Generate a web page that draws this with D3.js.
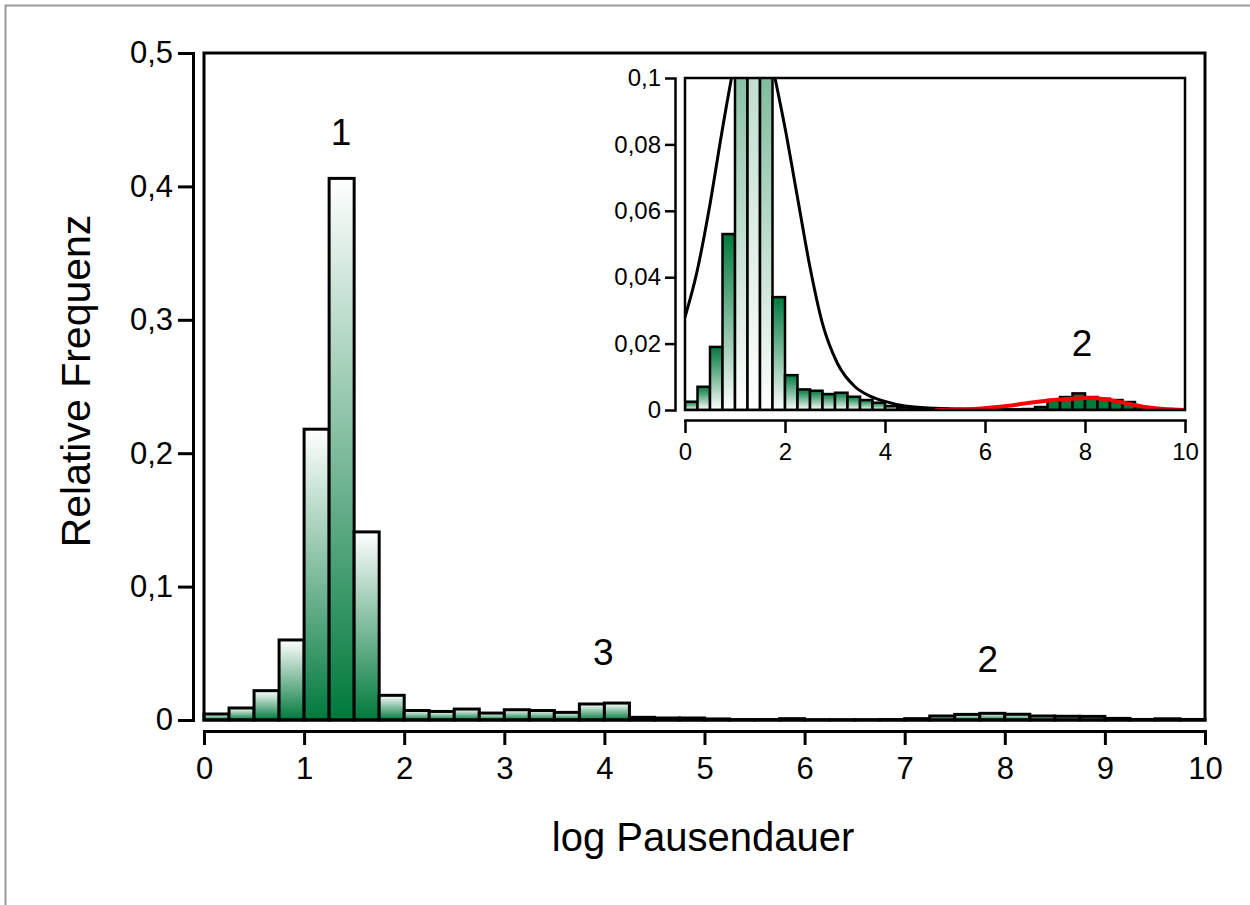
<!DOCTYPE html>
<html>
<head>
<meta charset="utf-8">
<script src="https://cdn.jsdelivr.net/npm/d3@7"></script>
<style>
    body { margin: 0; background: #fff; }
    svg { font-family: "Liberation Sans", Arial, sans-serif; }
</style>
</head>
<body>
<div id="chart"></div>
<script>
// histogram bins are 0.25 wide, starting at log Pausendauer = 0
const binWidth = 0.25;

// main histogram (relative frequency per bin)
const mainFreq = [
    0.0045, 0.009, 0.022, 0.060, 0.218, 0.406, 0.141, 0.0185,
    0.0071, 0.0064, 0.0082, 0.0052, 0.0077, 0.0071, 0.0057, 0.012,
    0.0127, 0.002, 0.0015, 0.0015, 0.0008, 0.0003, 0.0003, 0.001,
    0.0002, 0.0002, 0.0002, 0.0003, 0.001, 0.003, 0.0042, 0.005,
    0.0043, 0.003, 0.0028, 0.0027, 0.0012, 0.0004, 0.0009, 0.0004
];

// inset histogram, first component (bins from 0 to 7)
const insetFreq = [
    0.0025, 0.007, 0.019, 0.053, 0.218, 0.406, 0.2, 0.034,
    0.0105, 0.0062, 0.0058, 0.0048, 0.0052, 0.004, 0.003, 0.0022,
    0.0012, 0.0008, 0.0006, 0.0005, 0.0004, 0.0003, 0.0003, 0.0003,
    0.0002, 0.0002, 0.0002, 0.0003
];
// inset histogram, second component (bins from 7 to 10)
const insetPeak2Start = 7;
const insetPeak2Freq = [
    0.0009, 0.003, 0.0039, 0.005, 0.0039, 0.0034, 0.003, 0.0024,
    0.0009, 0.0003, 0.0003, 0.0002
];

// fitted curves in the inset
const fit1X = [0, 0.23, 0.5, 0.73, 0.93, 1.15, 1.37, 1.58, 1.8, 2.0, 2.25, 2.5, 2.75, 3.05, 3.4, 3.7, 4.0, 4.4, 5.0, 5.5, 6.0];
const fit1Y = [0.028, 0.041, 0.062, 0.083, 0.1, 0.116, 0.123, 0.116, 0.1, 0.085, 0.064, 0.043, 0.026, 0.014, 0.007, 0.0042, 0.0026, 0.0012, 0.0005, 0.0002, 0.0001];
const fit2X = [5.0, 5.77, 6.43, 6.9, 7.37, 7.77, 8.03, 8.43, 8.83, 9.23, 9.63, 10];
const fit2Y = [0, 0.0003, 0.0012, 0.0022, 0.003, 0.0035, 0.0036, 0.0032, 0.002, 0.0008, 0.0002, 0];

// ticks
const mainXTicks = [0, 1, 2, 3, 4, 5, 6, 7, 8, 9, 10];
const mainYTicks = [0, 0.1, 0.2, 0.3, 0.4, 0.5];
const insetXTicks = [0, 2, 4, 6, 8, 10];
const insetYTicks = [0, 0.02, 0.04, 0.06, 0.08, 0.1];

// peak labels
const mainLabelText = ["1", "3", "2"];
const mainLabelX = [1.37, 3.99, 7.83];
const mainLabelY = [0.431, 0.041, 0.036];
const insetLabelText = ["2"];
const insetLabelX = [7.94];
const insetLabelY = [0.0162];

const green = "#00793c";
const commaFmt = d => String(d).replace(".", ",");

const svg = d3.select("#chart").append("svg")
    .attr("width", 1250)
    .attr("height", 905);

// outer grey border (only top/left visible)
svg.append("rect")
    .attr("x", 5.5).attr("y", 5.5)
    .attr("width", 1300).attr("height", 950)
    .attr("fill", "none")
    .attr("stroke", "#9a9a9a")
    .attr("stroke-width", 2);

const defs = svg.append("defs");

// white top -> green bottom (main)
let g1 = defs.append("linearGradient").attr("id", "gradMain")
    .attr("x1", 0).attr("y1", 0).attr("x2", 0).attr("y2", 1);
g1.append("stop").attr("offset", 0).attr("stop-color", "#ffffff");
g1.append("stop").attr("offset", 1).attr("stop-color", green);

// green top -> white bottom (inset)
let g2 = defs.append("linearGradient").attr("id", "gradInset")
    .attr("x1", 0).attr("y1", 0).attr("x2", 0).attr("y2", 1);
g2.append("stop").attr("offset", 0).attr("stop-color", green);
g2.append("stop").attr("offset", 1).attr("stop-color", "#ffffff");

// ---------- main chart ----------
const main = { left: 204, right: 1205, top: 53, bottom: 720 };

const xMain = d3.scaleLinear().domain([0, 10]).range([main.left, main.right]);
const yMain = d3.scaleLinear().domain([0, 0.5]).range([main.bottom, main.top]);

svg.append("g")
    .selectAll("rect")
    .data(mainFreq)
    .join("rect")
    .attr("x", (d, i) => xMain(i * binWidth))
    .attr("width", xMain(binWidth) - xMain(0))
    .attr("y", d => yMain(d))
    .attr("height", d => yMain(0) - yMain(d))
    .attr("fill", "url(#gradMain)")
    .attr("stroke", "#000")
    .attr("stroke-width", 3);

svg.append("rect")
    .attr("x", main.left).attr("y", main.top)
    .attr("width", main.right - main.left)
    .attr("height", main.bottom - main.top)
    .attr("fill", "none")
    .attr("stroke", "#000")
    .attr("stroke-width", 3);

const yAxisMain = svg.append("g")
    .attr("transform", "translate(193,0)")
    .call(d3.axisLeft(yMain).tickValues(mainYTicks).tickFormat(commaFmt)
        .tickSize(15).tickSizeOuter(0).tickPadding(5));

const xAxisMain = svg.append("g")
    .attr("transform", "translate(0,731)")
    .call(d3.axisBottom(xMain).tickValues(mainXTicks).tickFormat(commaFmt)
        .tickSize(14).tickSizeOuter(0).tickPadding(12));

[yAxisMain, xAxisMain].forEach(ax => {
    ax.select(".domain").attr("stroke-width", 3).attr("stroke-linecap", "square");
    ax.selectAll(".tick line").attr("stroke-width", 3);
    ax.selectAll("text").style("font-size", "31px").attr("fill", "#000");
    ax.attr("font-family", null);
});

svg.append("text")
    .attr("transform", "rotate(-90)")
    .attr("x", -381)
    .attr("y", 90)
    .attr("text-anchor", "middle")
    .style("font-size", "41px")
    .text("Relative Frequenz");

svg.append("text")
    .attr("x", 703)
    .attr("y", 851)
    .attr("text-anchor", "middle")
    .style("font-size", "40px")
    .text("log Pausendauer");

svg.append("g")
    .selectAll("text")
    .data(mainLabelText)
    .join("text")
    .attr("x", (d, i) => xMain(mainLabelX[i]))
    .attr("y", (d, i) => yMain(mainLabelY[i]))
    .attr("text-anchor", "middle")
    .style("font-size", "37px")
    .text(d => d);

// ---------- inset ----------
const inset = { left: 685, right: 1185, top: 78, bottom: 410 };

const xIn = d3.scaleLinear().domain([0, 10]).range([inset.left, inset.right]);
const yIn = d3.scaleLinear().domain([0, 0.1]).range([inset.bottom, inset.top]);

defs.append("clipPath").attr("id", "insetClip")
    .append("rect")
    .attr("x", inset.left).attr("y", inset.top)
    .attr("width", inset.right - inset.left)
    .attr("height", inset.bottom - inset.top);

svg.append("rect")
    .attr("x", inset.left).attr("y", inset.top)
    .attr("width", inset.right - inset.left)
    .attr("height", inset.bottom - inset.top)
    .attr("fill", "#fff");

const insetG = svg.append("g").attr("clip-path", "url(#insetClip)");

insetG.append("g")
    .selectAll("rect")
    .data(insetFreq)
    .join("rect")
    .attr("x", (d, i) => xIn(i * binWidth))
    .attr("width", xIn(binWidth) - xIn(0))
    .attr("y", d => yIn(d))
    .attr("height", d => yIn(0) - yIn(d))
    .attr("fill", "url(#gradInset)")
    .attr("stroke", "#000")
    .attr("stroke-width", 2.5);

insetG.append("g")
    .selectAll("rect")
    .data(insetPeak2Freq)
    .join("rect")
    .attr("x", (d, i) => xIn(insetPeak2Start + i * binWidth))
    .attr("width", xIn(binWidth) - xIn(0))
    .attr("y", d => yIn(d))
    .attr("height", d => yIn(0) - yIn(d))
    .attr("fill", green)
    .attr("stroke", "#000")
    .attr("stroke-width", 2.5);

const fitLine = d3.line()
    .x(d => xIn(d[0]))
    .y(d => yIn(d[1]))
    .curve(d3.curveMonotoneX);

insetG.append("path")
    .datum(fit1X.map((x, i) => [x, fit1Y[i]]))
    .attr("d", fitLine)
    .attr("fill", "none")
    .attr("stroke", "#000")
    .attr("stroke-width", 3);

insetG.append("path")
    .datum(fit2X.map((x, i) => [x, fit2Y[i]]))
    .attr("d", fitLine)
    .attr("fill", "none")
    .attr("stroke", "#ff0000")
    .attr("stroke-width", 4);

svg.append("rect")
    .attr("x", inset.left).attr("y", inset.top)
    .attr("width", inset.right - inset.left)
    .attr("height", inset.bottom - inset.top)
    .attr("fill", "none")
    .attr("stroke", "#000")
    .attr("stroke-width", 2.5);

const yAxisIn = svg.append("g")
    .attr("transform", "translate(675,0)")
    .call(d3.axisLeft(yIn).tickValues(insetYTicks).tickFormat(commaFmt)
        .tickSize(10).tickSizeOuter(0).tickPadding(4));

const xAxisIn = svg.append("g")
    .attr("transform", "translate(0,420)")
    .call(d3.axisBottom(xIn).tickValues(insetXTicks).tickFormat(commaFmt)
        .tickSize(13).tickSizeOuter(0).tickPadding(10));

[yAxisIn, xAxisIn].forEach(ax => {
    ax.select(".domain").attr("stroke-width", 2.5).attr("stroke-linecap", "square");
    ax.selectAll(".tick line").attr("stroke-width", 2.5);
    ax.selectAll("text").style("font-size", "24px").attr("fill", "#000");
    ax.attr("font-family", null);
});

svg.append("g")
    .selectAll("text")
    .data(insetLabelText)
    .join("text")
    .attr("x", (d, i) => xIn(insetLabelX[i]))
    .attr("y", (d, i) => yIn(insetLabelY[i]))
    .attr("text-anchor", "middle")
    .style("font-size", "37px")
    .text(d => d);
</script>
</body>
</html>
